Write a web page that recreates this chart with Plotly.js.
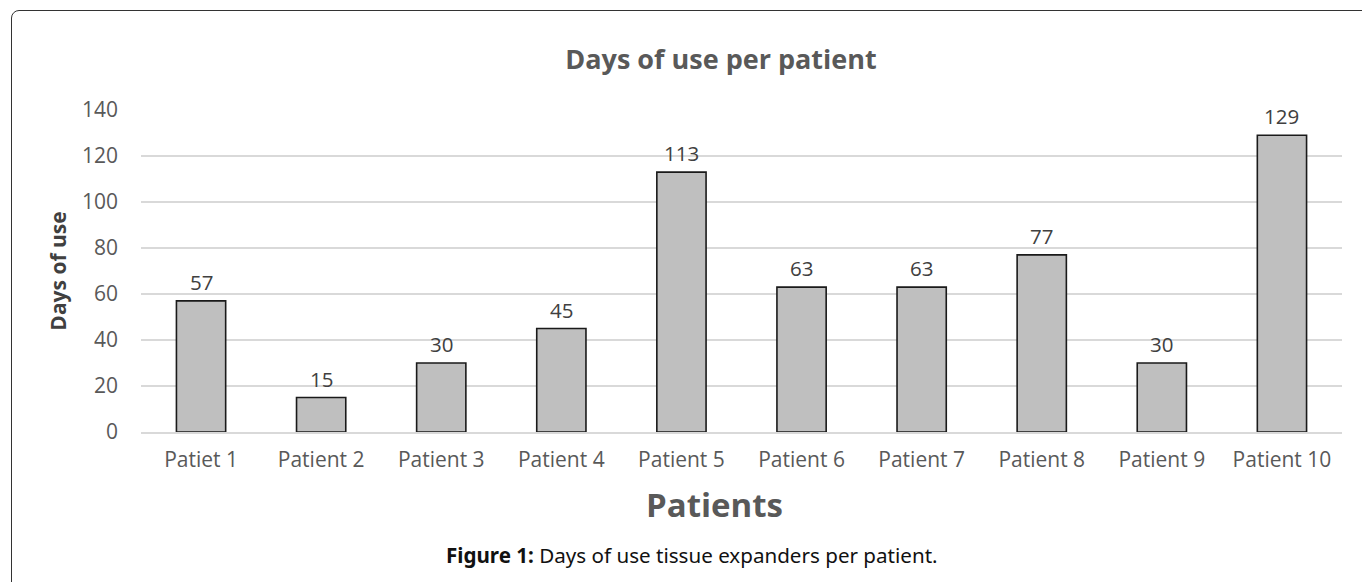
<!DOCTYPE html>
<html>
<head>
<meta charset="utf-8">
<script src="https://cdn.plot.ly/plotly-3.0.1.min.js"></script>
<style>
  html, body { margin: 0; padding: 0; background: #fff; overflow: hidden; }
  #chart { width: 1362px; height: 582px; }
  #frame { position: absolute; left: 11px; top: 10px; width: 1380px; height: 640px;
           border: 1.5px solid #333; border-radius: 8px; pointer-events: none; box-sizing: border-box; }
</style>
</head>
<body>
<div id="chart"></div>
<div id="frame"></div>
<script>
const categories = ["Patiet 1", "Patient 2", "Patient 3", "Patient 4", "Patient 5",
                    "Patient 6", "Patient 7", "Patient 8", "Patient 9", "Patient 10"];
const daysOfUse = [57, 15, 30, 45, 113, 63, 63, 77, 30, 129];
const yTicks = [0, 20, 40, 60, 80, 100, 120, 140];

const FONT = "'Open Sans', 'Noto Sans', sans-serif";
const PW = 1201, PH = 322.5, L = 141, T = 109.5;

const trace = {
  type: "bar",
  x: categories,
  y: daysOfUse,
  marker: { color: "#BFBFBF", line: { color: "#1a1a1a", width: 1.6 } },
  hoverinfo: "x+y"
};

const annotations = categories.map((c, i) => ({
  x: c, y: daysOfUse[i], xref: "x", yref: "y",
  text: String(daysOfUse[i]), showarrow: false,
  yanchor: "bottom", yshift: 3,
  font: { family: FONT, size: 20.5, color: "#404040" }
}));

annotations.push({
  xref: "paper", yref: "paper", x: (714 - L) / PW, y: -(505 - 432) / PH,
  xanchor: "center", yanchor: "middle", showarrow: false,
  text: "<b>Patients</b>",
  font: { family: FONT, size: 33, color: "#595959" }
});

annotations.push({
  xref: "paper", yref: "paper", x: (692 - L) / PW, y: -(555 - 432) / PH,
  xanchor: "center", yanchor: "middle", showarrow: false,
  text: "<b>Figure 1:</b> Days of use tissue expanders per patient.",
  font: { family: "'Liberation Sans Narrow', 'Noto Sans', sans-serif", size: 20.6, color: "#111" }
});

const layout = {
  width: 1362, height: 582,
  margin: { l: L, r: 20, t: T, b: 150, pad: 0 },
  paper_bgcolor: "rgba(0,0,0,0)",
  plot_bgcolor: "#fff",
  bargap: 0.59,
  showlegend: false,
  title: {
    text: "<b>Days of use per patient</b>",
    font: { family: FONT, size: 27, color: "#595959" },
    x: 721 / 1362, xanchor: "center",
    y: 1 - 60 / 582, yanchor: "middle", yref: "container"
  },
  xaxis: {
    type: "category",
    tickfont: { family: FONT, size: 21, color: "#595959" },
    ticks: "", showline: true, linecolor: "#D9D9D9", linewidth: 1.5,
    showgrid: false, zeroline: false,
    ticklabelstandoff: 8
  },
  yaxis: {
    range: [0, 140],
    tickvals: yTicks,
    ticktext: yTicks.map(String),
    tickfont: { family: FONT, size: 21, color: "#595959" },
    ticks: "", showline: false, zeroline: false,
    gridcolor: "#D9D9D9", gridwidth: 1.5,
    ticklabelstandoff: 22,
    title: { text: "<b>Days of use</b>", font: { family: FONT, size: 21, color: "#404040" }, standoff: 9 }
  },
  annotations: annotations
};

Plotly.newPlot("chart", [trace], layout, { displayModeBar: false, staticPlot: true });
</script>
</body>
</html>
